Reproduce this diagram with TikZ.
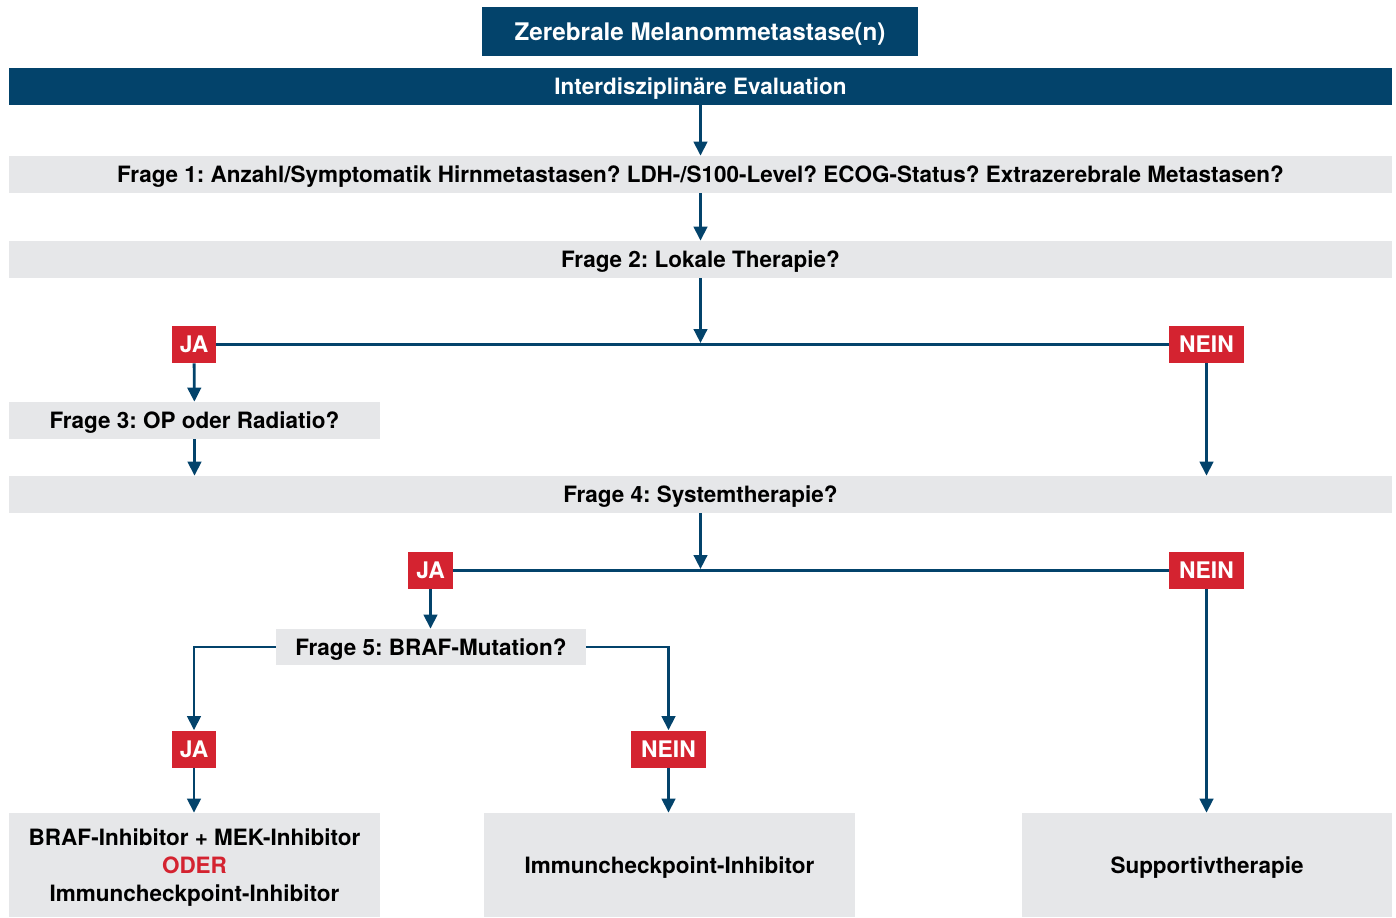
\documentclass[tikz,border=0pt]{standalone}
\usepackage{fontspec}
\setmainfont{TeX Gyre Heros}
\usetikzlibrary{arrows.meta}
\definecolor{navy}{HTML}{03436B}
\definecolor{red}{HTML}{D42330}
\definecolor{grey}{HTML}{E6E7E9}
\tikzset{bar/.style={fill=grey,inner sep=0pt,text depth=-0.6pt,minimum width=27.66cm,minimum height=0.74cm,font=\fontsize{12.8}{15}\selectfont\bfseries},head/.style={bar,fill=navy,text=white},box/.style={fill=grey,inner sep=0pt,text depth=-0.6pt,minimum width=7.42cm,minimum height=2.08cm,align=center,font=\fontsize{12.8}{15.9}\selectfont\bfseries},tag/.style={fill=red,text=white,inner sep=0pt,minimum height=0.74cm,font=\fontsize{13}{15}\selectfont\bfseries},arr/.style={-{Triangle[length=2.8mm,width=2.7mm]},line width=1.6pt,navy},line/.style={line width=1.6pt,navy}}

\begin{document}
\frenchspacing
\begin{tikzpicture}[x=0.02cm,y=-0.02cm]
\useasboundingbox (0,0) rectangle (1396,917);
\node[head,minimum width=8.72cm,minimum height=0.98cm,font=\fontsize{13.8}{16}\selectfont\bfseries] (title) at (700,31.5) {Zerebrale Melanommetastase(n)};
\node[head] (evaluation) at (700.5,86.5) {Interdisziplinäre Evaluation};
\node[bar] (frage1) at (700.5,174.5) {Frage 1: Anzahl/Symptomatik Hirnmetastasen? LDH-/S100-Level? ECOG-Status? Extrazerebrale Metastasen?};
\node[bar] (frage2) at (700.5,259.5) {Frage 2: Lokale Therapie?};
\node[tag,minimum width=0.88cm] (ja1) at (194,344.5) {JA};
\node[tag,minimum width=1.5cm] (nein1) at (1206.5,344.5) {NEIN};
\node[bar,minimum width=7.42cm] (frage3) at (194.5,420.5) {Frage 3: OP oder Radiatio?};
\node[bar] (frage4) at (700.5,494.5) {Frage 4: Systemtherapie?};
\node[tag,minimum width=0.9cm] (ja2) at (430.5,570.5) {JA};
\node[tag,minimum width=1.5cm] (nein2) at (1206.5,570.5) {NEIN};
\node[bar,minimum width=6.2cm,minimum height=0.72cm] (frage5) at (431,647) {Frage 5: BRAF-Mutation?};
\node[tag,minimum width=0.88cm] (ja3) at (194,749) {JA};
\node[tag,minimum width=1.5cm] (nein3) at (668.5,749) {NEIN};
\node[box] (braf) at (194.5,865) {BRAF-Inhibitor + MEK-Inhibitor\\\textcolor{red}{ODER}\\Immuncheckpoint-Inhibitor};
\node[box] (immun) at (669.5,865) {Immuncheckpoint-Inhibitor};
\node[box] (support) at (1207,865) {Supportivtherapie};
\coordinate (split1) at (700.5,343);
\coordinate (split2) at (700.5,569);
% Verbindungen
\draw[arr] (evaluation)--(frage1); \draw[arr] (frage1)--(frage2); \draw[arr] (frage2)--(split1);
\draw[line] (ja1)--(nein1);
\draw[arr] (ja1)--(frage3); \draw[arr] (frage3.south)--(frage3.south |- frage4.north); \draw[arr] (nein1)--(nein1 |- frage4.north);
\draw[arr] (frage4)--(split2);
\draw[line] (ja2)--(nein2);
\draw[arr] (ja2)--(ja2 |- frage5.north);
\draw[arr] (frage5.west)-|(ja3); \draw[arr] (frage5.east)-|(nein3);
\draw[arr] (ja3)--(ja3 |- braf.north); \draw[arr] (nein3)--(nein3 |- immun.north); \draw[arr] (nein2)--(nein2 |- support.north);
\end{tikzpicture}
\end{document}
